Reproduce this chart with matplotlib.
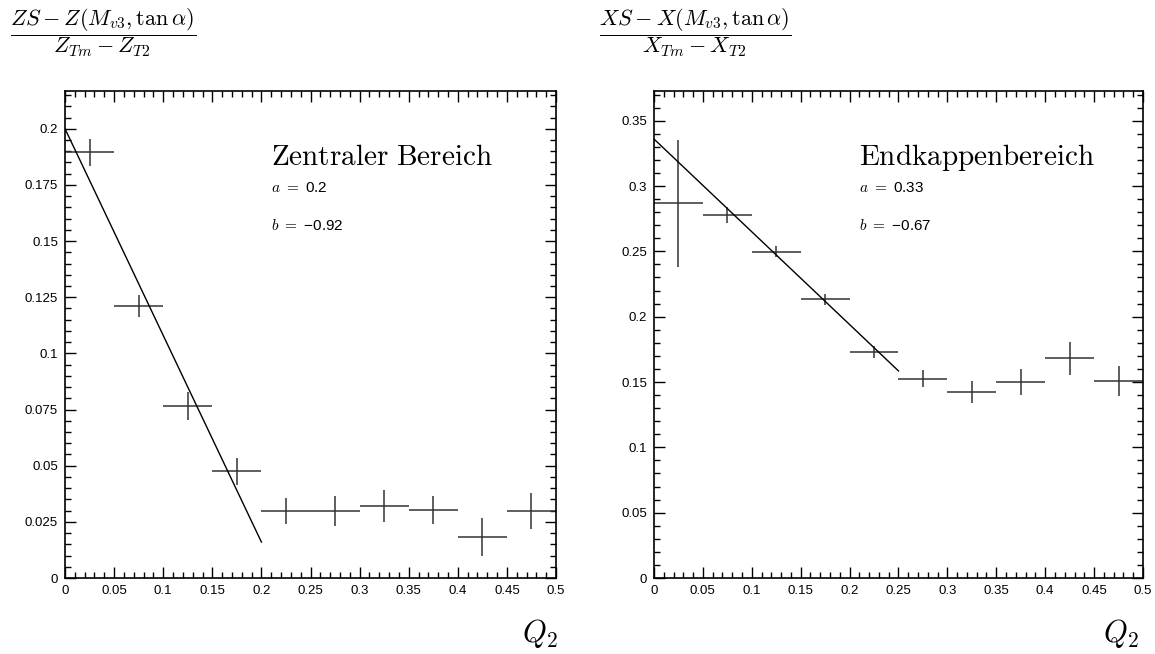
import numpy as np
import matplotlib
matplotlib.use("Agg")
import matplotlib.pyplot as plt
from matplotlib.ticker import MultipleLocator

plt.rcParams['mathtext.fontset'] = 'cm'
plt.rcParams['font.family'] = ['Liberation Sans', 'DejaVu Sans']

# bin centres and half widths (Q_2)
q2 = [0.025, 0.075, 0.125, 0.175, 0.225, 0.275, 0.325, 0.375, 0.425, 0.475]
q2_err = [0.025] * 10

# central region
z_val = [0.1895, 0.121, 0.0767, 0.0475, 0.0298, 0.0298, 0.0322, 0.0303, 0.0181, 0.0298]
z_err = [0.006, 0.0048, 0.0062, 0.006, 0.0058, 0.0067, 0.0072, 0.0063, 0.0085, 0.0082]
z_fit = [0.2, -0.92]     # a, b
z_fit_range = [0.0, 0.2]

# endcap region
x_val = [0.2868, 0.278, 0.2497, 0.2133, 0.173, 0.1525, 0.1424, 0.150, 0.168, 0.1508]
x_err = [0.0487, 0.006, 0.0042, 0.004, 0.0045, 0.0066, 0.0082, 0.0102, 0.013, 0.0114]
x_fit = [0.336, -0.71]
x_fit_range = [0.0, 0.25]

fig = plt.figure(figsize=(11.55, 6.54), dpi=100)
ax1 = fig.add_axes([0.0563, 0.1162, 0.4251, 0.7446])
ax2 = fig.add_axes([0.5662, 0.1162, 0.4234, 0.7446])


def style_axes(ax, ymax, ymajor, yminor):
    ax.set_xlim(0, 0.5)
    ax.set_ylim(0, ymax)
    ax.xaxis.set_major_locator(MultipleLocator(0.05))
    ax.xaxis.set_minor_locator(MultipleLocator(0.01))
    ax.yaxis.set_major_locator(MultipleLocator(ymajor))
    ax.yaxis.set_minor_locator(MultipleLocator(yminor))
    fmt = lambda v, p: ('%.3f' % v).rstrip('0').rstrip('.') if v != 0 else '0'
    ax.xaxis.set_major_formatter(plt.FuncFormatter(fmt))
    ax.yaxis.set_major_formatter(plt.FuncFormatter(fmt))
    ax.tick_params(which='both', direction='in', top=True, right=True,
                   labelsize=9.5, width=1)
    ax.tick_params(which='major', length=8, pad=5)
    ax.tick_params(which='minor', length=4)
    for s in ax.spines.values():
        s.set_linewidth(1.2)


def draw(ax, val, err, fit, rng):
    ax.errorbar(q2, val, xerr=q2_err, yerr=err, fmt='none',
                ecolor='#333333', elinewidth=1.1, capsize=0)
    xs = np.array(rng)
    ax.plot(xs, fit[0] + fit[1] * xs, color='black', lw=1)


style_axes(ax1, 0.2168, 0.025, 0.005)
draw(ax1, z_val, z_err, z_fit, z_fit_range)
style_axes(ax2, 0.3727, 0.05, 0.01)
draw(ax2, x_val, x_err, x_fit, x_fit_range)

for ax, name, a_txt, b_txt in [(ax1, 'Zentraler\\ Bereich', '0.2', '0.92'),
                               (ax2, 'Endkappenbereich', '0.33', '0.67')]:
    ax.text(0.42, 0.848, r'$\mathrm{%s}$' % name, transform=ax.transAxes,
            fontsize=21, va='baseline')
    ax.text(0.42, 0.793, r'$a\ =\ $' + a_txt, transform=ax.transAxes,
            fontsize=11, va='baseline')
    ax.text(0.42, 0.715, r'$b\ =\ $' + '\u2212' + b_txt, transform=ax.transAxes,
            fontsize=11, va='baseline')

fig.text(0.009, 0.95, r'$\dfrac{ZS-Z(M_{v3},\tan\alpha)}{Z_{Tm}-Z_{T2}}$',
         fontsize=16, va='center')
fig.text(0.519, 0.95, r'$\dfrac{XS-X(M_{v3},\tan\alpha)}{X_{Tm}-X_{T2}}$',
         fontsize=16, va='center')
fig.text(0.452, 0.018, r'$Q_2$', fontsize=22)
fig.text(0.955, 0.018, r'$Q_2$', fontsize=22)

fig.savefig('out.png', dpi=100)
